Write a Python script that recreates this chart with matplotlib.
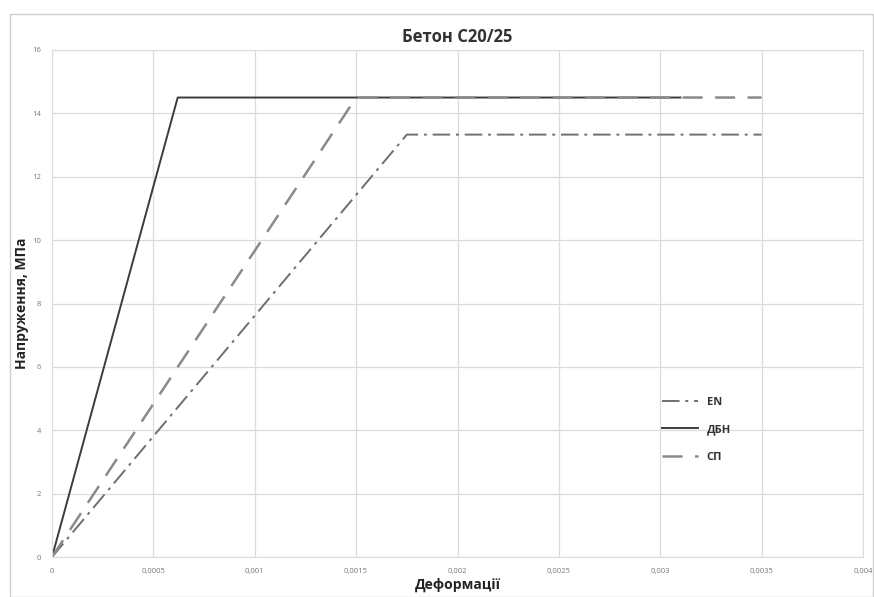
import matplotlib.pyplot as plt
from matplotlib.patches import Rectangle

# Stress-strain diagrams, concrete C20/25
en_x = [0, 0.00175, 0.0035]
en_y = [0, 13.33, 13.33]

dbn_x = [0, 0.00062, 0.0031]
dbn_y = [0, 14.5, 14.5]

sp_x = [0, 0.0015, 0.0035]
sp_y = [0, 14.5, 14.5]

x_ticks = [0, 0.0005, 0.001, 0.0015, 0.002, 0.0025, 0.003, 0.0035, 0.004]
x_labels = ['0', '0,0005', '0,001', '0,0015', '0,002', '0,0025', '0,003', '0,0035', '0,004']
y_ticks = [0, 2, 4, 6, 8, 10, 12, 14, 16]

plt.rcParams['font.family'] = ['Open Sans', 'DejaVu Sans']

fig = plt.figure(figsize=(8.74, 5.97), dpi=100)
ax = fig.add_axes([52/874, 1 - 557/597, (863 - 52)/874, (557 - 50)/597])

# chart border like Excel
fig.patches.append(Rectangle((10/874, 0), 863/874, 583/597, transform=fig.transFigure,
                             fill=False, edgecolor='#d0d0d0', linewidth=1.0))

ax.plot(en_x, en_y, color='#6e6e6e', linewidth=1.4, dashes=(9, 3, 1.5, 3), label='EN')
ax.plot(dbn_x, dbn_y, color='#3c3c3c', linewidth=1.4, label='ДБН')
ax.plot(sp_x, sp_y, color='#8a8a8a', linewidth=1.8, dashes=(8, 5), label='СП')

ax.set_xlim(0, 0.004)
ax.set_ylim(0, 16)
ax.set_xticks(x_ticks)
ax.set_xticklabels(x_labels)
ax.set_yticks(y_ticks)
ax.tick_params(length=0, labelsize=5.5, colors='#777777', pad=8)
ax.grid(True, color='#dcdcdc', linewidth=0.9)
ax.set_axisbelow(True)
for s in ax.spines.values():
    s.set_color('#dcdcdc')

ax.set_title('Бетон С20/25', fontsize=12, fontweight='bold', color='#333333', pad=6)
ax.set_xlabel('Деформації', fontsize=10, fontweight='bold', color='#222222', labelpad=2)
ax.set_ylabel('Напруження, МПа', fontsize=10, fontweight='bold', color='#222222', labelpad=2)

leg = ax.legend(loc='lower left', bbox_to_anchor=(0.74, 0.166), frameon=False,
                fontsize=8, handlelength=3.2, labelspacing=1.5)
for t in leg.get_texts():
    t.set_fontweight('bold')
    t.set_color('#333333')

plt.savefig('out.png', dpi=100)
